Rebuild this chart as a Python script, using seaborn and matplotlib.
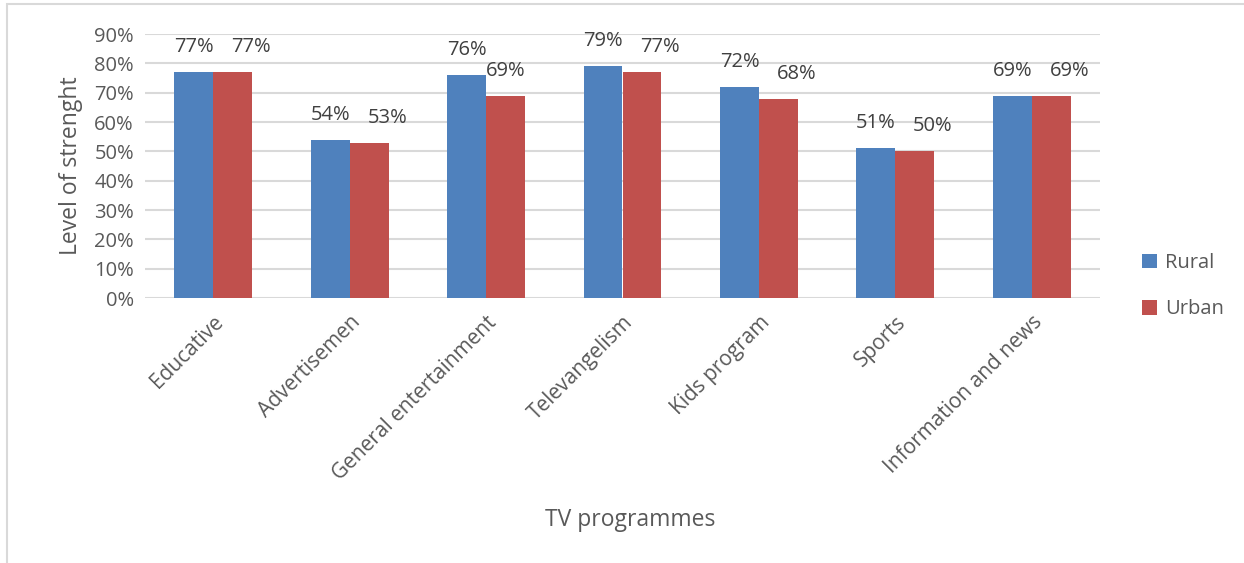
import matplotlib
matplotlib.use("Agg")
import matplotlib.pyplot as plt
import pandas as pd
import seaborn as sns
from matplotlib.patches import Rectangle
from matplotlib.ticker import PercentFormatter

programmes = ["Educative", "Advertisemen", "General entertainment", "Televangelism",
              "Kids program", "Sports", "Information and news"]
rural = [77, 54, 76, 79, 72, 51, 69]
urban = [77, 53, 69, 77, 68, 50, 69]
groups = ["Rural", "Urban"]
colors = ["#4F81BD", "#C0504D"]

df = pd.DataFrame({
    "programme": programmes * 2,
    "area": [groups[0]] * len(programmes) + [groups[1]] * len(programmes),
    "value": [v / 100 for v in rural + urban],
})

sns.set_theme(style="white")
plt.rcParams["font.family"] = ["Open Sans", "DejaVu Sans"]

fig = plt.figure(figsize=(12.44, 5.63), dpi=100)
ax = fig.add_axes([145 / 1244, 1 - 298 / 563, 955 / 1244, 264 / 563])

sns.barplot(data=df, x="programme", y="value", hue="area", order=programmes,
            hue_order=groups, palette=colors, width=0.57, saturation=1,
            linewidth=0, ax=ax, legend=True, zorder=3)

ax.set_ylim(0, 0.9)
ax.set_yticks([i / 10 for i in range(10)])
ax.yaxis.set_major_formatter(PercentFormatter(1.0, decimals=0))
ax.grid(axis="y", color="#D9D9D9", linewidth=1.5, zorder=0)
ax.set_axisbelow(True)
for s in ax.spines.values():
    s.set_visible(False)
ax.tick_params(axis="y", labelsize=14.5, labelcolor="#595959", length=0, pad=8)
ax.tick_params(axis="x", labelsize=15, labelcolor="#595959", length=0, pad=10)
for lbl in ax.get_xticklabels():
    lbl.set_rotation(45)
    lbl.set_ha("right")
    lbl.set_rotation_mode("anchor")

# value labels; the urban label slides right when it would collide with the rural one
rural_bars, urban_bars = ax.containers[0], ax.containers[1]
for rb, ub, rv, uv in zip(rural_bars, urban_bars, rural, urban):
    ax.annotate(f"{rv}%", (rb.get_x() + rb.get_width() / 2, rb.get_height()),
                xytext=(0, 18), textcoords="offset points", ha="center",
                va="center", fontsize=14.5, color="#404040")
    dx = 13 if abs(rv - uv) < 6 else 0
    ax.annotate(f"{uv}%", (ub.get_x() + ub.get_width() / 2, ub.get_height()),
                xytext=(dx, 18), textcoords="offset points", ha="center",
                va="center", fontsize=14.5, color="#404040")

ax.set_xlabel("TV programmes", fontsize=16.5, color="#595959")
ax.xaxis.set_label_coords(0.508, -0.84)
ax.xaxis.label.set_va("center")
ax.set_ylabel("Level of strenght", fontsize=16.5, color="#595959", labelpad=8)

handles, labels = ax.get_legend_handles_labels()
ax.legend(handles, labels, loc="center left", bbox_to_anchor=(1.025, 0.045),
          frameon=False, fontsize=14.5, labelcolor="#595959", handlelength=0.75,
          handleheight=0.75, handletextpad=0.4, labelspacing=1.3)

fig.patches.append(Rectangle((7 / 1244, -0.01), 1.2, 1 - 4 / 563 + 0.01,
                             transform=fig.transFigure, fill=False,
                             edgecolor="#D9D9D9", linewidth=1.5))

fig.savefig("out.png", dpi=100)
